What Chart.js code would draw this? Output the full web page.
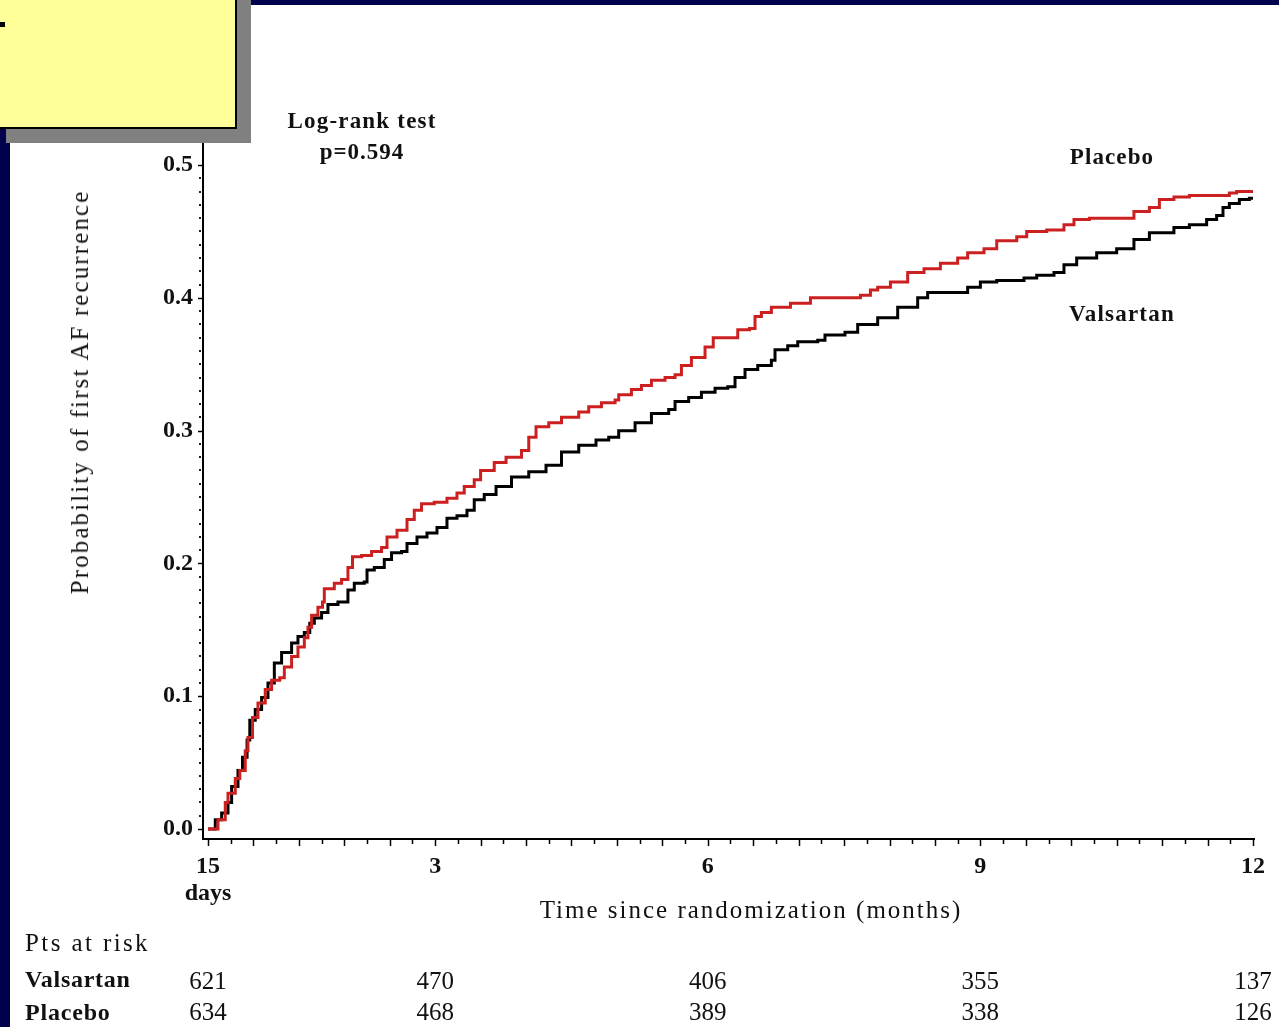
<!DOCTYPE html>
<html>
<head>
<meta charset="utf-8">
<script src="https://cdn.jsdelivr.net/npm/chart.js@4/dist/chart.umd.min.js"></script>
<style>
  body { margin: 0; background: #fff; }
  #wrap { position: relative; width: 1279px; height: 1027px; overflow: hidden; background: #fff;
          font-family: "Liberation Serif", "DejaVu Serif", serif; color: #111; }
  #chart { position: absolute; left: 0; top: 0; }
  .navy { position: absolute; background: #00004d; }
  .txt { position: absolute; white-space: nowrap; }
  .c { transform: translate(-50%, -50%); }
  .l { transform: translate(0, -50%); }
</style>
</head>
<body>
<div id="wrap">
  <canvas id="chart" width="1279" height="1027"></canvas>

  <div class="navy" style="left:0;top:0;width:1279px;height:5px"></div>
  <div class="navy" style="left:0;top:0;width:10px;height:1027px"></div>

  <!-- yellow box with its shadow -->
  <div style="position:absolute;left:6px;top:-10px;width:245px;height:153px;background:#808080"></div>
  <div style="position:absolute;left:-10px;top:-10px;width:243px;height:135px;background:#ffff99;border:2px solid #000"></div>
  <div style="position:absolute;left:0;top:22px;width:5px;height:5px;background:#000"></div>

  <div class="txt c" style="left:362px;top:121px;font-size:23px;font-weight:bold;letter-spacing:1.2px">Log-rank test</div>
  <div class="txt c" style="left:362px;top:152px;font-size:23px;font-weight:bold;letter-spacing:1px">p=0.594</div>
  <div class="txt c" style="left:1112px;top:157px;font-size:23px;font-weight:bold;letter-spacing:1.1px">Placebo</div>
  <div class="txt c" style="left:1122px;top:314px;font-size:23px;font-weight:bold;letter-spacing:1.2px">Valsartan</div>

  <div class="txt c" style="left:80px;top:392px;font-size:25px;letter-spacing:2.1px;transform:translate(-50%,-50%) rotate(-90deg)">Probability of first AF recurrence</div>
  <div class="txt c" style="left:751px;top:910px;font-size:25px;letter-spacing:2px">Time since randomization (months)</div>

  <div class="txt l" style="left:25px;top:943px;font-size:25px;letter-spacing:2.4px">Pts at risk</div>
  <div class="txt l" style="left:25px;top:979px;font-size:24px;font-weight:bold;letter-spacing:0.7px">Valsartan</div>
  <div class="txt l" style="left:25px;top:1012px;font-size:24px;font-weight:bold;letter-spacing:0.8px">Placebo</div>
</div>

<script>
// Kaplan-Meier curves (months since randomization, probability)
const placeboMonths = [0.5, 0.55, 0.61, 0.69, 0.72, 0.80, 0.85, 0.91, 0.94, 0.99, 1.05, 1.13, 1.20, 1.29, 1.34,
  1.42, 1.49, 1.56, 1.60, 1.64, 1.71, 1.76, 1.78, 1.89, 1.97, 2.04, 2.09, 2.19, 2.30, 2.41, 2.47, 2.58, 2.69,
  2.77, 2.85, 2.99, 3.13, 3.24, 3.32, 3.43, 3.50, 3.65, 3.78, 3.95, 4.03, 4.11, 4.25, 4.39, 4.58, 4.69, 4.83,
  4.98, 5.02, 5.16, 5.27, 5.38, 5.53, 5.64, 5.71, 5.82, 5.97, 6.06, 6.26, 6.33, 6.46, 6.52, 6.59, 6.70, 6.91,
  7.13, 7.43, 7.68, 7.79, 7.87, 8.01, 8.20, 8.38, 8.56, 8.75, 8.86, 9.04, 9.18, 9.40, 9.51, 9.73, 9.92, 10.03,
  10.20, 10.58, 10.69, 10.86, 10.97, 11.13, 11.30, 11.74, 11.82, 12.0];
const placeboProb = [0, 0, 0.007, 0.020, 0.027, 0.038, 0.044, 0.059, 0.069, 0.084, 0.095, 0.105, 0.112, 0.114, 0.122,
  0.130, 0.137, 0.144, 0.152, 0.161, 0.167, 0.171, 0.181, 0.185, 0.188, 0.197, 0.205, 0.206, 0.209, 0.212, 0.220,
  0.225, 0.233, 0.240, 0.245, 0.246, 0.249, 0.253, 0.258, 0.263, 0.270, 0.276, 0.280, 0.285, 0.295, 0.303, 0.306,
  0.310, 0.314, 0.318, 0.321, 0.323, 0.327, 0.331, 0.334, 0.338, 0.340, 0.342, 0.349, 0.355, 0.363, 0.370, 0.370,
  0.376, 0.377, 0.386, 0.389, 0.393, 0.396, 0.400, 0.400, 0.402, 0.406, 0.408, 0.412, 0.419, 0.422, 0.426, 0.430,
  0.434, 0.437, 0.443, 0.446, 0.450, 0.451, 0.455, 0.459, 0.460, 0.460, 0.465, 0.468, 0.474, 0.476, 0.477, 0.479,
  0.480, 0.480];

const valsartanMonths = [0.5, 0.58, 0.65, 0.72, 0.76, 0.83, 0.88, 0.93, 0.96, 1.02, 1.09, 1.16, 1.23, 1.31, 1.42,
  1.49, 1.56, 1.62, 1.67, 1.75, 1.82, 1.93, 2.04, 2.11, 2.22, 2.25, 2.33, 2.44, 2.52, 2.63, 2.69, 2.80, 2.91,
  3.02, 3.13, 3.24, 3.35, 3.43, 3.54, 3.67, 3.84, 4.03, 4.22, 4.39, 4.58, 4.77, 4.91, 5.02, 5.20, 5.38, 5.57,
  5.64, 5.79, 5.93, 6.08, 6.22, 6.30, 6.41, 6.55, 6.70, 6.74, 6.88, 6.99, 7.21, 7.29, 7.51, 7.65, 7.87, 8.09,
  8.31, 8.42, 8.64, 8.86, 9.00, 9.18, 9.48, 9.62, 9.81, 9.92, 10.06, 10.28, 10.50, 10.69, 10.86, 11.13, 11.30,
  11.49, 11.60, 11.67, 11.74, 11.85, 11.96, 12.0];
const valsartanProb = [0, 0.007, 0.012, 0.020, 0.032, 0.044, 0.054, 0.067, 0.082, 0.090, 0.099, 0.110, 0.125, 0.133,
  0.140, 0.145, 0.148, 0.155, 0.159, 0.163, 0.169, 0.171, 0.180, 0.185, 0.186, 0.195, 0.197, 0.203, 0.208, 0.209,
  0.215, 0.220, 0.223, 0.227, 0.234, 0.236, 0.240, 0.248, 0.252, 0.258, 0.265, 0.269, 0.274, 0.284, 0.289, 0.293,
  0.295, 0.300, 0.306, 0.313, 0.316, 0.322, 0.325, 0.329, 0.332, 0.333, 0.340, 0.346, 0.349, 0.353, 0.361, 0.364,
  0.367, 0.368, 0.372, 0.374, 0.380, 0.385, 0.393, 0.400, 0.404, 0.404, 0.408, 0.412, 0.413, 0.415, 0.417, 0.419,
  0.425, 0.430, 0.434, 0.437, 0.444, 0.449, 0.453, 0.455, 0.459, 0.462, 0.468, 0.471, 0.474, 0.475, 0.475];

const xTickValues = [0.5, 3, 6, 9, 12];
const xTickLabels = [['15', 'days'], '3', '6', '9', '12'];
const yTickValues = [0, 0.1, 0.2, 0.3, 0.4, 0.5];
const yTickLabels = ['0.0', '0.1', '0.2', '0.3', '0.4', '0.5'];

// patients at risk under each x tick
const riskValsartan = [621, 470, 406, 355, 137];
const riskPlacebo = [634, 468, 389, 338, 126];

function toPoints(xs, ys) {
  return xs.map((x, i) => ({ x: x, y: ys[i] }));
}

// small tick marks along both axes, SAS style
const tickMarks = {
  id: 'tickMarks',
  afterDraw(chart) {
    const ctx = chart.ctx;
    const xs = chart.scales.x, ys = chart.scales.y;
    const area = chart.chartArea;
    ctx.save();
    ctx.strokeStyle = '#000';
    ctx.lineWidth = 1.5;
    for (let m = 0.5; m <= 12.001; m += 0.25) {
      const px = Math.round(xs.getPixelForValue(m)) + 0.5;
      const len = (Math.abs(m * 2 - Math.round(m * 2)) < 0.01) ? 7 : 5;
      ctx.beginPath();
      ctx.moveTo(px, area.bottom);
      ctx.lineTo(px, area.bottom + len);
      ctx.stroke();
    }
    ctx.fillStyle = '#222';
    for (let i = 0; i <= 50; i++) {
      const py = ys.getPixelForValue(i / 100);
      if (i % 10 === 0) {
        ctx.beginPath();
        ctx.moveTo(area.left - 5, Math.round(py) + 0.5);
        ctx.lineTo(area.left, Math.round(py) + 0.5);
        ctx.stroke();
      } else {
        ctx.fillRect(area.left - 4, Math.round(py) - 1, 2, 2);
      }
    }
    ctx.restore();
  }
};

// numbers at risk, placed under the x ticks
const atRisk = {
  id: 'atRisk',
  afterDraw(chart) {
    const ctx = chart.ctx;
    const xs = chart.scales.x;
    ctx.save();
    ctx.fillStyle = '#111';
    ctx.font = '25px "Liberation Serif"';
    ctx.textAlign = 'center';
    ctx.textBaseline = 'middle';
    xTickValues.forEach((v, i) => {
      const px = xs.getPixelForValue(v);
      ctx.fillText(String(riskValsartan[i]), px, 982);
      ctx.fillText(String(riskPlacebo[i]), px, 1013);
    });
    ctx.restore();
  }
};

new Chart(document.getElementById('chart').getContext('2d'), {
  type: 'line',
  data: {
    datasets: [
      {
        label: 'Placebo',
        data: toPoints(placeboMonths, placeboProb),
        borderColor: '#cc2020',
        borderWidth: 3,
        stepped: true,
        pointRadius: 0,
        fill: false
      },
      {
        label: 'Valsartan',
        data: toPoints(valsartanMonths, valsartanProb),
        borderColor: '#000000',
        borderWidth: 3,
        stepped: true,
        pointRadius: 0,
        fill: false
      }
    ]
  },
  options: {
    responsive: false,
    animation: false,
    devicePixelRatio: 1,
    layout: { padding: { left: 0, top: 143, right: 21, bottom: 113 } },
    plugins: { legend: { display: false }, tooltip: { enabled: false } },
    scales: {
      x: {
        type: 'linear',
        min: 0.445,
        max: 12.013,
        afterFit(scale) { scale.height = 75; },
        afterBuildTicks(scale) { scale.ticks = xTickValues.map(v => ({ value: v })); },
        border: { display: true, color: '#000', width: 2 },
        grid: { display: true, drawOnChartArea: false, drawTicks: false, color: 'rgba(0,0,0,0)' },
        ticks: {
          padding: 14,
          maxRotation: 0,
          autoSkip: false,
          color: '#111',
          font: { family: 'Liberation Serif', size: 24, weight: 'bold', lineHeight: 1.12 },
          callback: (v) => xTickLabels[xTickValues.indexOf(v)]
        }
      },
      y: {
        type: 'linear',
        min: -0.0075,
        max: 0.5166,
        afterFit(scale) { scale.width = 203; },
        afterBuildTicks(scale) { scale.ticks = yTickValues.map(v => ({ value: v })); },
        border: { display: true, color: '#000', width: 2 },
        grid: { display: true, drawOnChartArea: false, drawTicks: false, color: 'rgba(0,0,0,0)' },
        ticks: {
          padding: 10,
          autoSkip: false,
          color: '#111',
          font: { family: 'Liberation Serif', size: 24, weight: 'bold' },
          callback: (v) => yTickLabels[yTickValues.indexOf(v)]
        }
      }
    }
  },
  plugins: [tickMarks, atRisk]
});
</script>
</body>
</html>
